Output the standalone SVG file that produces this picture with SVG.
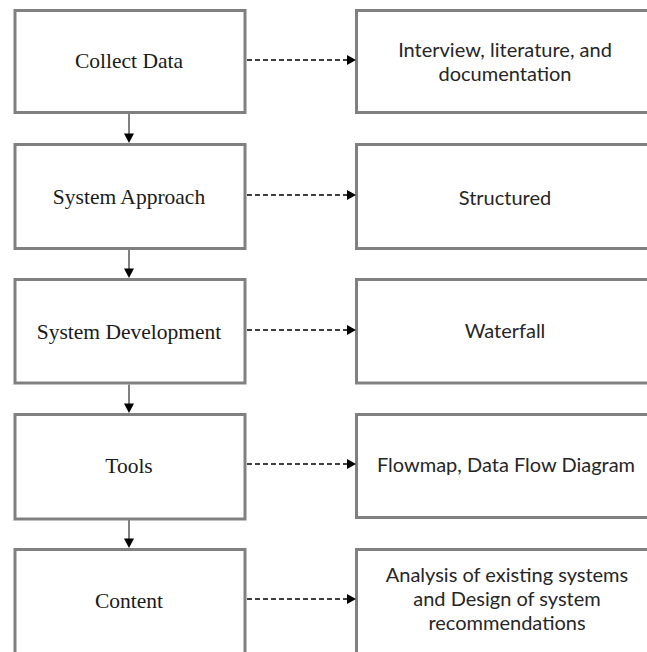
<svg xmlns="http://www.w3.org/2000/svg" width="647" height="652" viewBox="0 0 647 652">
<style>
.box{fill:#fff;stroke:#808080;stroke-width:3}
.lt{font-family:"Liberation Serif","Times New Roman",serif;font-size:21.5px;fill:#1a1a1a;text-anchor:middle}
.rt{font-family:Lato,"Open Sans",sans-serif;font-size:20px;fill:#262626;text-anchor:middle}
.v{stroke:#808080;stroke-width:2;fill:none}
.d{stroke:#000;stroke-width:1.5;stroke-dasharray:5 3;fill:none}
.ah{fill:#000}
</style>
<rect width="647" height="652" fill="#fff"/>
<g id="collect-data"><rect class="box" x="15" y="10.5" width="230" height="102"/><text class="lt" x="129" y="68">Collect Data</text></g>
<g id="system-approach"><rect class="box" x="15" y="144.5" width="230" height="104"/><text class="lt" x="129" y="204">System Approach</text></g>
<g id="system-development"><rect class="box" x="15" y="279.5" width="230" height="103.5"/><text class="lt" x="129" y="339">System Development</text></g>
<g id="tools"><rect class="box" x="15" y="414.5" width="230" height="104.5"/><text class="lt" x="129" y="473">Tools</text></g>
<g id="content"><rect class="box" x="15" y="549.5" width="230" height="120"/><text class="lt" x="129" y="608">Content</text></g>
<g id="interview"><rect class="box" x="356.5" y="10.5" width="300" height="102"/><text class="rt" x="505" y="57">Interview, literature, and</text><text class="rt" x="505" y="81">documentation</text></g>
<g id="structured"><rect class="box" x="356.5" y="144.5" width="300" height="104"/><text class="rt" x="505" y="205">Structured</text></g>
<g id="waterfall"><rect class="box" x="356.5" y="279.5" width="300" height="103.5"/><text class="rt" x="505" y="338">Waterfall</text></g>
<g id="flowmap"><rect class="box" x="356.5" y="414.5" width="300" height="103"/><text class="rt" x="506" y="472">Flowmap, Data Flow Diagram</text></g>
<g id="analysis"><rect class="box" x="356.5" y="549.5" width="300" height="120"/><text class="rt" x="507" y="582">Analysis of existing systems</text><text class="rt" x="507" y="606">and Design of system</text><text class="rt" x="507" y="630">recommendations</text></g>
<g id="connectors">
<line class="v" x1="129" y1="113" x2="129" y2="134"/><polygon class="ah" points="124,133.5 134,133.5 129,143"/>
<line class="v" x1="129" y1="250" x2="129" y2="269"/><polygon class="ah" points="124,268.5 134,268.5 129,278"/>
<line class="v" x1="129" y1="384.5" x2="129" y2="404"/><polygon class="ah" points="124,403.5 134,403.5 129,413"/>
<line class="v" x1="129" y1="520" x2="129" y2="539"/><polygon class="ah" points="124,538.5 134,538.5 129,548"/>
<line class="d" x1="247" y1="60" x2="348" y2="60"/><polygon class="ah" points="347,55 356,60 347,65"/>
<line class="d" x1="247" y1="195" x2="348" y2="195"/><polygon class="ah" points="347,190 356,195 347,200"/>
<line class="d" x1="247" y1="330" x2="348" y2="330"/><polygon class="ah" points="347,325 356,330 347,335"/>
<line class="d" x1="247" y1="464" x2="348" y2="464"/><polygon class="ah" points="347,459 356,464 347,469"/>
<line class="d" x1="247" y1="599" x2="348" y2="599"/><polygon class="ah" points="347,594 356,599 347,604"/>
</g>
</svg>
